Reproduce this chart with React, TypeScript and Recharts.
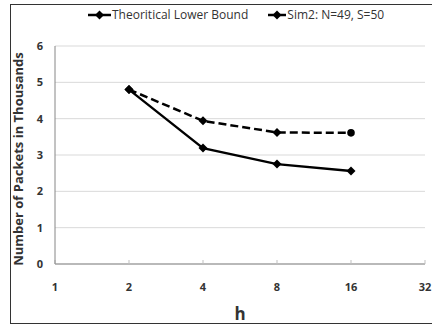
import { LineChart, Line, XAxis, YAxis, CartesianGrid, Label } from "recharts";

const hValues = [2, 4, 8, 16];
const lowerBound = [4.8, 3.19, 2.75, 2.56];
const sim2Values = [4.8, 3.94, 3.62, 3.61];
const xTicks = [1, 2, 4, 8, 16, 32];
const yTicks = [0, 1, 2, 3, 4, 5, 6];
const seriesNames = ["Theoritical Lower Bound", "Sim2: N=49, S=50"];

const data = hValues.map((h, i) => ({ h, lower: lowerBound[i], sim2: sim2Values[i] }));

const FONT = "'Open Sans', 'Liberation Sans', sans-serif";
const tickStyle = { fontFamily: FONT, fontSize: 11, fontWeight: 700, fill: "#333" };

const diamondPath = (cx: number, cy: number, r: number) =>
  `M${cx},${cy - r}L${cx + r},${cy}L${cx},${cy + r}L${cx - r},${cy}Z`;

const DiamondDot = (props: any) => {
  const { cx, cy, index } = props;
  if (cx == null || cy == null) return <g key={`d-${index}`} />;
  return <path key={`d-${index}`} d={diamondPath(cx, cy, 4.5)} fill="#000" />;
};

// last point of the sim series is drawn as a round marker in the original
const SimDot = (props: any) => {
  const { cx, cy, index } = props;
  if (cx == null || cy == null) return <g key={`s-${index}`} />;
  if (index === hValues.length - 1) {
    return <circle key={`s-${index}`} cx={cx} cy={cy} r={3.8} fill="#000" />;
  }
  return <path key={`s-${index}`} d={diamondPath(cx, cy, 4.5)} fill="#000" />;
};

const LegendIcon = ({ width }: { width: number }) => (
  <svg width={width} height={10} style={{ display: "block" }}>
    <line x1={0} y1={5} x2={width} y2={5} stroke="#000" strokeWidth={2.5} />
    <path d={diamondPath(width / 2, 5, 4.5)} fill="#000" />
  </svg>
);

const App = () => {
  return (
    <div style={{ position: "fixed", left: 0, top: 0, width: 432, height: 328, overflow: "hidden", background: "#fff" }}>
      <div
        style={{
          position: "absolute",
          left: 10,
          top: 4,
          width: 440,
          height: 318,
          border: "1.5px solid #333",
        }}
      />
      <div style={{ position: "absolute", left: 0, top: 0 }}>
        <LineChart width={432} height={328} data={data} margin={{ top: 46, right: 7, bottom: 34, left: 0 }}>
          <CartesianGrid vertical={false} stroke="#d9d9d9" />
          <XAxis
            dataKey="h"
            type="number"
            scale="log"
            domain={[1, 32]}
            ticks={xTicks}
            height={30}
            tickSize={-4}
            tickMargin={23}
            tick={tickStyle}
            tickLine={{ stroke: "#bfbfbf" }}
            axisLine={{ stroke: "#868686" }}
            interval={0}
          >
            <Label
              content={() => (
                <text x={240} y={320} textAnchor="middle" fontFamily={FONT} fontSize={17} fontWeight={700} fill="#333">
                  h
                </text>
              )}
            />
          </XAxis>
          <YAxis
            domain={[0, 6]}
            ticks={yTicks}
            width={55}
            tickSize={0}
            tickLine={false}
            tickMargin={12}
            tick={tickStyle}
            axisLine={{ stroke: "#868686" }}
          >
            <Label
              content={() => (
                <text
                  x={20}
                  y={159}
                  transform="rotate(-90 20 159)"
                  textAnchor="middle"
                  dominantBaseline="middle"
                  fontFamily={FONT}
                  fontSize={13}
                  fontWeight={700}
                  fill="#333"
                >
                  Number of Packets in Thousands
                </text>
              )}
            />
          </YAxis>
          <Line
            dataKey="lower"
            name={seriesNames[0]}
            stroke="#000"
            strokeWidth={2.3}
            dot={DiamondDot}
            activeDot={false}
            isAnimationActive={false}
          />
          <Line
            dataKey="sim2"
            name={seriesNames[1]}
            stroke="#000"
            strokeWidth={2.5}
            strokeDasharray="8 4"
            dot={SimDot}
            activeDot={false}
            isAnimationActive={false}
          />
        </LineChart>
      </div>
      <div
        style={{
          position: "absolute",
          left: 88,
          top: 6,
          display: "flex",
          alignItems: "center",
          fontFamily: FONT,
          fontSize: 12,
          color: "#333",
          whiteSpace: "nowrap",
        }}
      >
        <LegendIcon width={23} />
        <span style={{ marginLeft: 1, marginRight: 20 }}>{seriesNames[0]}</span>
        <LegendIcon width={18} />
        <span style={{ marginLeft: 1 }}>{seriesNames[1]}</span>
      </div>
    </div>
  );
};

export default App;
